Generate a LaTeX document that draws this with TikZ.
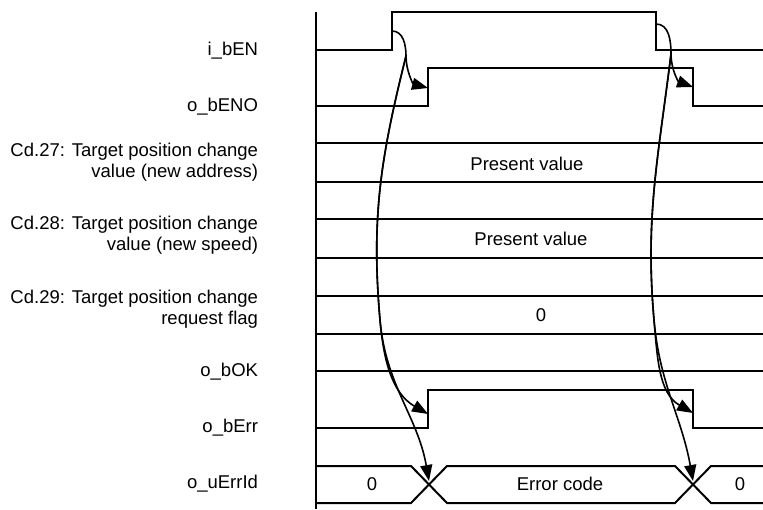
\documentclass[tikz,border=0pt]{standalone}
\usepackage{fontspec}
\setmainfont{Liberation Sans}
\usetikzlibrary{arrows.meta}

\begin{document}
\begin{tikzpicture}
[x=1pt, y=1pt, line width=2pt,
			font=\fontsize{18.5}{21.5}\selectfont,
			lbl/.style={anchor=east, align=right, inner sep=0pt},
			cause/.style={-{Triangle[length=16pt,width=12pt]}, line width=1.6pt}]
\useasboundingbox (0,0) rectangle (763,509);

\node (ben) at (259,458)[lbl] {i\_bEN};
\node (beno) at (259,402)[lbl] {o\_bENO};
\node (cd27) at (259,347)[lbl] {Cd.27: Target position change\\value (new address)};
\node (cd28) at (259,274)[lbl] {Cd.28: Target position change\\value (new speed)};
\node (cd29) at (259,200)[lbl] {Cd.29: Target position change\\request flag};
\node (bok) at (259,137)[lbl] {o\_bOK};
\node (berr) at (259,81)[lbl] {o\_bErr};
\node (uerr) at (259,25)[lbl] {o\_uErrId};

\draw (316,497) -- (316,0);

\draw (316,459) -- (392,459) -- (392,497) -- (656,497) -- (656,459) -- (763,459);
\draw (316,403) -- (428,403) -- (428,441) -- (693,441) -- (693,403) -- (763,403);

\draw (316,366) -- (763,366);
\draw (316,327) -- (763,327);
\draw (316,290) -- (763,290);
\draw (316,251) -- (763,251);
\draw (316,213) -- (763,213);
\draw (316,175) -- (763,175);
\node (pv27) at (527,345) {Present value};
\node (pv28) at (531,270) {Present value};
\node (fl29) at (541,194) {0};

\draw (316,138) -- (763,138);

\draw (316,81) -- (428,81) -- (428,119) -- (693,119) -- (693,81) -- (763,81);

\draw (316,43) -- (411,43) -- (447,6) -- (675,6) -- (711,43) -- (763,43);
\draw (316,6) -- (411,6) -- (447,43) -- (675,43) -- (711,6) -- (763,6);
\node (id0a) at (372,25) {0};
\node (idec) at (560,25) {Error code};
\node (id0b) at (740,25) {0};

\coordinate (en1) at (392,478);
\coordinate (k1) at (406,453);
\coordinate (eno1) at (428,421);
\coordinate (m1) at (380,189);
\coordinate (err1) at (428,95);
\coordinate (id1) at (429,28);

\coordinate (en2) at (656,485);
\coordinate (k2) at (671,455);
\coordinate (eno2) at (693,422);
\coordinate (m2) at (654,189);
\coordinate (err2) at (693,96);
\coordinate (id2) at (693,28);

\draw[cause] (en1) to[out=0,in=90] (k1) to[out=-90,in=165] (eno1);
\draw[cause] (k1) to[out=-104,in=95] (m1) to[out=-85,in=150] (err1);
\draw[cause] (k1) to[out=-104,in=95] (m1) to[out=-85,in=100] (id1);

\draw[cause] (en2) to[out=0,in=90] (k2) to[out=-90,in=160] (eno2);
\draw[cause] (k2) to[out=-97,in=95] (m2) to[out=-85,in=150] (err2);
\draw[cause] (k2) to[out=-97,in=95] (m2) to[out=-85,in=100] (id2);

\end{tikzpicture}
\end{document}
